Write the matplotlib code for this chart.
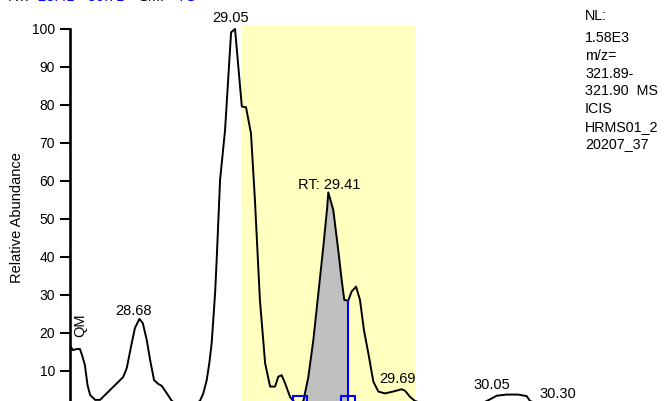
import numpy as np
from matplotlib import pyplot as plt

plt.rcParams['font.family'] = ['Liberation Sans', 'DejaVu Sans']

# chromatogram trace (retention time in min, relative abundance in %)
rt = [28.418, 28.432, 28.447, 28.458, 28.466, 28.477, 28.487, 28.497, 28.516, 28.535,
      28.623, 28.637, 28.656, 28.668, 28.685, 28.698, 28.713, 28.726, 28.741, 28.757,
      28.770, 28.789, 28.808, 28.840, 28.880, 28.916, 28.929, 28.942, 28.952, 28.961,
      28.974, 28.980, 28.993, 29.012, 29.035, 29.050, 29.076, 29.092, 29.111, 29.126,
      29.145, 29.165, 29.184, 29.203, 29.215, 29.228, 29.241, 29.260, 29.273, 29.290,
      29.311, 29.330, 29.349, 29.368, 29.387, 29.402, 29.406, 29.425, 29.444, 29.457,
      29.467, 29.482, 29.495, 29.512, 29.527, 29.542, 29.559, 29.578, 29.597, 29.622,
      29.654, 29.686, 29.699, 29.718, 29.737, 29.800, 29.900, 29.970, 30.011, 30.049,
      30.087, 30.130, 30.163, 30.176, 30.220, 30.300, 30.400, 30.500, 30.600, 30.720]
abundance = [16.8, 15.5, 15.8, 15.8, 14.2, 11.6, 6.3, 3.7, 2.4, 2.4,
             8.4, 10.8, 17.4, 21.3, 23.7, 22.6, 18.2, 12.9, 7.6, 6.6,
             6.1, 4.2, 2.2, 0.6, 0.8, 2.1, 4.1, 7.6, 12.1, 17.4,
             30.5, 39.2, 60.3, 73.4, 99.1, 100.0, 79.6, 79.4, 72.5, 55.0,
             28.7, 12.0, 5.9, 5.9, 8.5, 8.9, 6.8, 3.2, 2.1, 1.2,
             2.1, 8.5, 18.2, 30.4, 42.7, 53.2, 57.0, 52.4, 41.8, 34.0,
             28.7, 28.5, 30.9, 32.2, 28.7, 20.8, 14.6, 7.2, 4.6, 4.1,
             4.6, 5.2, 4.8, 3.2, 2.1, 0.8, 0.6, 0.9, 2.1, 3.5,
             3.8, 3.8, 3.4, 2.1, 1.0, 1.1, 0.6, 0.4, 0.5, 0.4]

peak_labels = ["28.68", "29.05", "RT: 29.41", "29.69", "30.05", "30.30"]
peak_times = [28.68, 29.05, 29.41, 29.69, 30.05, 30.30]

highlight = (29.073, 29.737)       # shaded RT window
integration = (29.297, 29.482)     # integrated peak limits
baseline_level = 1.5

header = [("RT:", "black"), ("28.41 - 30.71", "blue"), ("SM:", "black"), ("7G", "blue")]
info_top = ["NL:", "1.58E3"]
info_lines = ["m/z=", "321.89-", "321.90  MS", "ICIS", "HRMS01_2", "20207_37"]

x_lo, x_hi = 28.4183, 30.714
y_lo, y_hi = 2.105, 101.05

fig = plt.figure(figsize=(6.71, 4.01), dpi=100)
ax = fig.add_axes([69.5 / 671, 0, 1 - 69.5 / 671, 376 / 401])

rt_arr = np.array(rt)
ab_arr = np.array(abundance)

ax.axvspan(highlight[0], highlight[1], color='#ffffc0', lw=0, zorder=0)

# integrated area
inside = (rt_arr > integration[0]) & (rt_arr < integration[1])
fx = np.concatenate([[integration[0]], rt_arr[inside], [integration[1]]])
fy = np.concatenate([[np.interp(integration[0], rt_arr, ab_arr)], ab_arr[inside],
                     [np.interp(integration[1], rt_arr, ab_arr)]])
ax.fill_between(fx, baseline_level, fy, color='#c0c0c0', lw=0, zorder=1)

ax.plot(rt_arr, ab_arr, color='black', lw=1.4, zorder=3)

ax.plot([integration[1], integration[1]], [baseline_level, fy[-1]], color='blue', lw=1.5, zorder=4)
ax.plot(integration, [baseline_level, baseline_level], ls='none', marker='s', ms=9.5,
        mfc='none', mec='blue', mew=1.5, zorder=5)

for lab, t in zip(peak_labels, peak_times):
    dx = 0 if lab.startswith("RT") else -3.5
    ax.annotate(lab, xy=(t, np.interp(t, rt_arr, ab_arr)), xytext=(dx, 5),
                textcoords='offset points', ha='center', va='baseline',
                fontsize=10.5, annotation_clip=False)

ax.text(28.461, 22.1, "QM", rotation=90, ha='center', va='center', fontsize=10.5)

ax.set_xlim(x_lo, x_hi)
ax.set_ylim(y_lo, y_hi)
ax.set_yticks(np.arange(10, 101, 10))
ax.set_xticks([])
for s in ['top', 'right', 'bottom']:
    ax.spines[s].set_visible(False)
ax.spines['left'].set_linewidth(1.9)
ax.spines['left'].set_bounds(y_lo, 100)
ax.tick_params(axis='y', direction='out', length=7, width=1.5, pad=3.5, labelsize=10)
ax.set_ylabel("Relative Abundance", fontsize=10.5)
ax.yaxis.set_label_coords(-0.076, 0.488)
ax.patch.set_alpha(0)

# header line, mostly cut off by the top edge
hx = [8, 38, 138, 177]
for (txt, col), xp in zip(header, hx):
    fig.text(xp / 671, 1 - 1.2 / 401, txt, color=col, fontsize=10.5, va='baseline')

for i, txt in enumerate(info_top):
    fig.text(585 / 671, 1 - (20 + 22 * i) / 401, txt, fontsize=10.3, va='baseline')
for i, txt in enumerate(info_lines):
    fig.text(585 / 671, 1 - (60 + 17.7 * i) / 401, txt, fontsize=10.3, va='baseline')

fig.savefig("out.png", dpi=100)
